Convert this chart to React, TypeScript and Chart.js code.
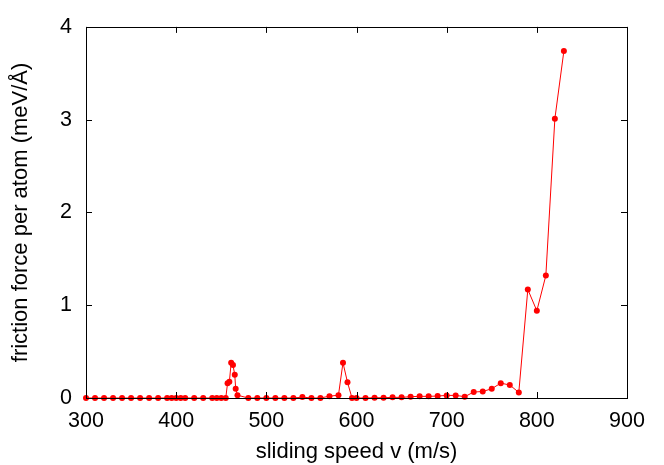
import React, { useEffect, useRef } from "react";
import { Chart, registerables } from "chart.js";

Chart.register(...registerables);

const speeds = [300, 310, 320, 330, 340, 350, 360, 370, 380, 390, 395, 400, 405, 410, 420, 430, 440, 445, 450, 455, 457, 459, 461, 463, 465, 466, 468, 480, 490, 500, 510, 520, 530, 540, 550, 560, 570, 580, 585, 590, 595, 600, 610, 620, 630, 640, 650, 660, 670, 680, 690, 700, 710, 720, 730, 740, 750, 760, 770, 780, 790, 800, 810, 820, 830];
const friction = [0, 0, 0, 0, 0, 0, 0, 0, 0, 0, 0, 0, 0, 0, 0, 0, 0, 0, 0, 0, 0.16, 0.175, 0.38, 0.355, 0.25, 0.1, 0.03, 0, 0, 0, 0, 0, 0, 0.01, 0, 0, 0.02, 0.03, 0.38, 0.17, 0, 0, 0, 0.003, 0.003, 0.007, 0.007, 0.014, 0.018, 0.018, 0.021, 0.028, 0.028, 0.014, 0.064, 0.07, 0.1, 0.16, 0.14, 0.06, 1.17, 0.94, 1.32, 3.01, 3.74];
const xTicks = [300, 400, 500, 600, 700, 800, 900];
const yTicks = [0, 1, 2, 3, 4];
const xTitle = "sliding speed v (m/s)";
const yTitle = "friction force per atom (meV/Å)";

const FONT = "'Liberation Sans', Arial, sans-serif";
const TICK_SIZE = 21.5;
const TITLE_SIZE = 22;

const framePlugin = {
  id: "frameTicks",
  afterDraw(chart: any) {
    const { ctx, chartArea } = chart;
    const xs = chart.scales.x;
    const ys = chart.scales.y;
    const L = 6;
    ctx.save();
    ctx.strokeStyle = "#000";
    ctx.lineWidth = 1;
    ctx.beginPath();
    for (const v of xTicks) {
      const px = Math.round(xs.getPixelForValue(v)) + 0.5;
      ctx.moveTo(px, chartArea.bottom);
      ctx.lineTo(px, chartArea.bottom - L);
      ctx.moveTo(px, chartArea.top);
      ctx.lineTo(px, chartArea.top + L);
    }
    for (const v of yTicks) {
      const py = Math.round(ys.getPixelForValue(v)) + 0.5;
      ctx.moveTo(chartArea.left, py);
      ctx.lineTo(chartArea.left + L, py);
      ctx.moveTo(chartArea.right, py);
      ctx.lineTo(chartArea.right - L, py);
    }
    ctx.stroke();
    ctx.strokeRect(
      Math.round(chartArea.left) + 0.5,
      Math.round(chartArea.top) + 0.5,
      Math.round(chartArea.right - chartArea.left),
      Math.round(chartArea.bottom - chartArea.top)
    );
    ctx.restore();
  },
};

export default function App() {
  const ref = useRef<HTMLCanvasElement | null>(null);
  useEffect(() => {
    document.body.style.margin = "0";
    const canvas = ref.current;
    if (!canvas) return;
    const chart = new Chart(canvas, {
      type: "scatter",
      data: {
        datasets: [
          {
            data: speeds.map((x, i) => ({ x, y: friction[i] })),
            showLine: true,
            borderColor: "#ff0000",
            backgroundColor: "#ff0000",
            borderWidth: 1,
            pointRadius: 3,
            pointHoverRadius: 3,
            pointBorderWidth: 0,
            clip: false as any,
          },
        ],
      },
      options: {
        responsive: false,
        animation: false,
        layout: { padding: { top: 25, right: 37, left: 0, bottom: 0 } },
        plugins: { legend: { display: false }, tooltip: { enabled: false } },
        scales: {
          x: {
            type: "linear",
            min: 300,
            max: 900,
            afterBuildTicks: (s: any) => {
              s.ticks = xTicks.map((v) => ({ value: v }));
            },
            afterFit: (s: any) => {
              s.height = 67;
            },
            grid: { display: false, drawTicks: false },
            border: { display: false },
            ticks: {
              color: "#000",
              padding: 10,
              font: { family: FONT, size: TICK_SIZE },
            },
            title: {
              display: true,
              text: xTitle,
              color: "#000",
              font: { family: FONT, size: TITLE_SIZE },
              padding: { top: 0, bottom: 0 },
            },
          },
          y: {
            type: "linear",
            min: 0,
            max: 4,
            afterBuildTicks: (s: any) => {
              s.ticks = yTicks.map((v) => ({ value: v }));
            },
            afterFit: (s: any) => {
              s.width = 86;
            },
            grid: { display: false, drawTicks: false },
            border: { display: false },
            ticks: {
              color: "#000",
              padding: 14,
              font: { family: FONT, size: TICK_SIZE },
            },
            title: {
              display: true,
              text: yTitle,
              color: "#000",
              font: { family: FONT, size: TITLE_SIZE },
              padding: { top: 8, bottom: 0 },
            },
          },
        },
      },
      plugins: [framePlugin],
    });
    return () => chart.destroy();
  }, []);
  return (
    <div style={{ position: "absolute", left: 0, top: 0, width: 664, height: 465, background: "#fff" }}>
      <canvas ref={ref} width={664} height={465} style={{ display: "block" }} />
    </div>
  );
}
